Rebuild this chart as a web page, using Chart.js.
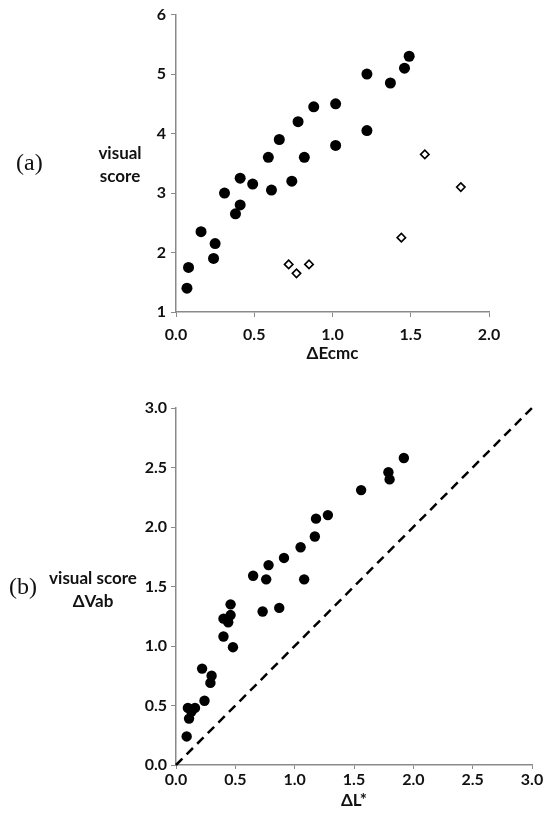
<!DOCTYPE html>
<html>
<head>
<meta charset="utf-8">
<script src="https://cdn.jsdelivr.net/npm/chart.js@4.4.1/dist/chart.umd.min.js"></script>
<style>
  html, body { margin: 0; padding: 0; background: #fff; }
  body { width: 546px; height: 815px; position: relative; overflow: hidden; font-family: Lato, sans-serif; }
  canvas { position: absolute; left: 0; }
  #chartA { top: 0; }
  #chartB { top: 390px; }
  .panel { position: absolute; font-family: "Liberation Serif", serif; font-size: 24px; color: #111; }
  .ytitle { position: absolute; text-align: center; font-weight: 700; font-size: 17px; line-height: 23px; color: #111; }
</style>
</head>
<body>
<canvas id="chartA" width="546" height="372"></canvas>
<canvas id="chartB" width="546" height="425"></canvas>

<div class="panel" style="left:16px; top:149px;">(a)</div>
<div class="ytitle" style="left:80px; top:141px; width:80px;">visual<br>score</div>
<div class="panel" style="left:9px; top:573px;">(b)</div>
<div class="ytitle" style="left:38px; top:566px; width:110px;">visual score<br>ΔVab</div>

<script>
// ---- panel (a): visual score vs ΔEcmc ----
const ecmcFilled = [0.07, 0.08, 0.16, 0.24, 0.25, 0.31, 0.38, 0.41, 0.41, 0.49, 0.59, 0.61, 0.66, 0.74, 0.78, 0.82, 0.88, 1.02, 1.02, 1.22, 1.22, 1.37, 1.46, 1.49];
const scoreFilled = [1.4, 1.75, 2.35, 1.9, 2.15, 3.0, 2.65, 3.25, 2.8, 3.15, 3.6, 3.05, 3.9, 3.2, 4.2, 3.6, 4.45, 3.8, 4.5, 5.0, 4.05, 4.85, 5.1, 5.3];
const ecmcOpen = [0.72, 0.77, 0.85, 1.44, 1.59, 1.82];
const scoreOpen = [1.8, 1.65, 1.8, 2.25, 3.65, 3.1];
const ticksEcmc = [0, 0.5, 1.0, 1.5, 2.0];
const ticksScoreA = [1, 2, 3, 4, 5, 6];

// ---- panel (b): ΔVab vs ΔL* ----
const deltaL = [0.09, 0.11, 0.10, 0.13, 0.16, 0.24, 0.22, 0.29, 0.30, 0.40, 0.40, 0.44, 0.46, 0.46, 0.48, 0.65, 0.73, 0.76, 0.78, 0.87, 0.91, 1.05, 1.08, 1.17, 1.18, 1.28, 1.56, 1.79, 1.80, 1.92];
const deltaVab = [0.24, 0.39, 0.48, 0.45, 0.48, 0.54, 0.81, 0.69, 0.75, 1.08, 1.23, 1.20, 1.26, 1.35, 0.99, 1.59, 1.29, 1.56, 1.68, 1.32, 1.74, 1.83, 1.56, 1.92, 2.07, 2.10, 2.31, 2.46, 2.40, 2.58];
const identityLine = [0, 3];
const ticksL = [0, 0.5, 1.0, 1.5, 2.0, 2.5, 3.0];

const AXIS_GREY = "#8a8a8a";
const TEXT = "#111";
const tickFont = { family: "Lato", size: 16, weight: "700" };
const titleFont = { family: "Lato", size: 17, weight: "700" };

const toPoints = (xs, ys) => xs.map((x, i) => ({ x, y: ys[i] }));

const axis = (min, max, step, fmt, extra) => ({
  type: "linear",
  min,
  max,
  ticks: { stepSize: step, color: TEXT, font: tickFont, callback: fmt, padding: extra.padding },
  grid: { display: true, drawOnChartArea: false, drawTicks: true, tickLength: extra.tickLength, color: AXIS_GREY, lineWidth: 1 },
  border: { display: true, color: AXIS_GREY, width: 1.5 },
  afterFit: extra.fit,
  title: extra.title || { display: false },
});

const fixed1 = (v) => Number(v).toFixed(1);
const plain = (v) => String(v);

const baseOptions = {
  responsive: false,
  animation: false,
  plugins: { legend: { display: false }, tooltip: { enabled: false } },
};

new Chart(document.getElementById("chartA").getContext("2d"), {
  type: "scatter",
  data: {
    datasets: [
      {
        data: toPoints(ecmcFilled, scoreFilled),
        pointStyle: "circle",
        pointRadius: 5.5,
        backgroundColor: "#000",
        borderColor: "#000",
        borderWidth: 0,
      },
      {
        data: toPoints(ecmcOpen, scoreOpen),
        pointStyle: "rectRot",
        pointRadius: 4.2,
        backgroundColor: "#fff",
        borderColor: "#000",
        borderWidth: 1.6,
      },
    ],
  },
  options: {
    ...baseOptions,
    layout: { padding: { left: 136, right: 57, top: 14, bottom: 0 } },
    scales: {
      x: axis(ticksEcmc[0], ticksEcmc[ticksEcmc.length - 1], 0.5, fixed1, {
        padding: 8,
        tickLength: 5,
        fit: (s) => { s.height = 60; },
        title: { display: true, text: "ΔEcmc", color: TEXT, font: titleFont, padding: { top: 0, bottom: 8 } },
      }),
      y: axis(ticksScoreA[0], ticksScoreA[ticksScoreA.length - 1], 1, plain, {
        padding: 5,
        tickLength: 5,
        fit: (s) => { s.width = 40; },
      }),
    },
  },
});

new Chart(document.getElementById("chartB").getContext("2d"), {
  type: "scatter",
  data: {
    datasets: [
      {
        data: toPoints(deltaL, deltaVab),
        pointStyle: "circle",
        pointRadius: 5.2,
        backgroundColor: "#000",
        borderColor: "#000",
        borderWidth: 0,
      },
      {
        // ΔVab = ΔL* reference line
        data: toPoints(identityLine, identityLine),
        showLine: true,
        pointRadius: 0,
        borderColor: "#000",
        borderWidth: 2.5,
        borderDash: [9, 6],
        clip: false,
      },
    ],
  },
  options: {
    ...baseOptions,
    layout: { padding: { left: 136, right: 14, top: 18, bottom: 0 } },
    scales: {
      x: axis(ticksL[0], ticksL[ticksL.length - 1], 0.5, fixed1, {
        padding: 1,
        tickLength: 4,
        fit: (s) => { s.height = 50; },
        title: { display: true, text: "ΔL*", color: TEXT, font: titleFont, padding: { top: 0, bottom: 4 } },
      }),
      y: axis(ticksL[0], ticksL[ticksL.length - 1], 0.5, fixed1, {
        padding: 4,
        tickLength: 5,
        fit: (s) => { s.width = 40; },
      }),
    },
  },
});
</script>
</body>
</html>
